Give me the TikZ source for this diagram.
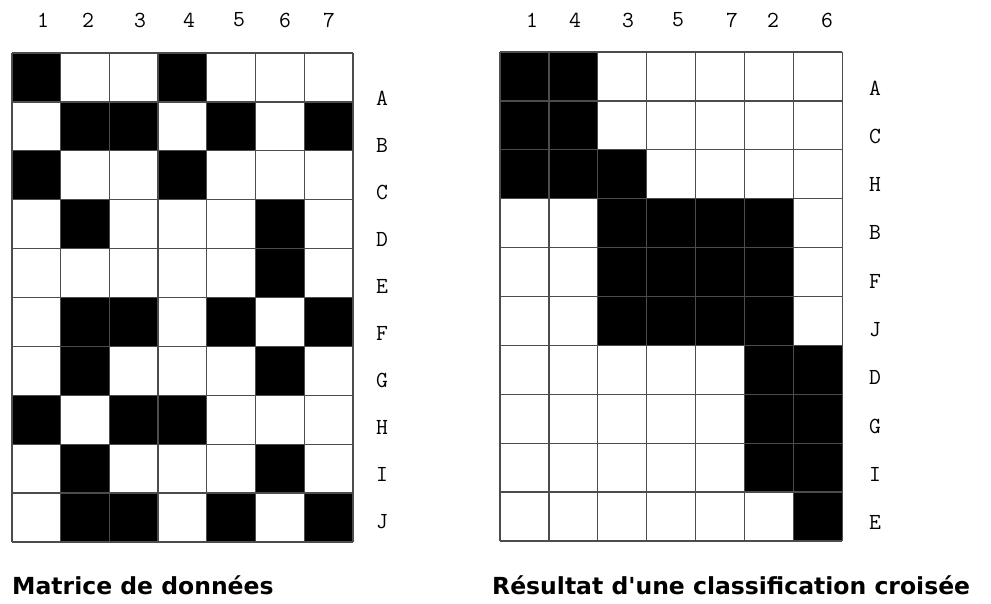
\documentclass[tikz,border=0pt]{standalone}
\usepackage{fontspec}
\newfontfamily\capfont{DejaVu Sans}

\begin{document}
\begin{tikzpicture}[x=1pt,y=-1pt,
  gridline/.style={draw=black!70, line width=1.3pt},
  lab/.style={font=\ttfamily\fontsize{23}{23}\selectfont, inner sep=0pt},
  caption/.style={font=\capfont\bfseries\fontsize{23.5}{23.5}\selectfont, anchor=base west, inner sep=0pt}]

  \useasboundingbox (0,0) rectangle (991,603);

  %--- Left: data matrix, rows A..J, columns 1..7 ---
  \foreach \r/\cols in {0/{0,3}, 1/{1,2,4,6}, 2/{0,3}, 3/{1,5}, 4/{5},
                        5/{1,2,4,6}, 6/{1,5}, 7/{0,2,3}, 8/{1,5}, 9/{1,2,4,6}}
    \foreach \c in \cols
      \fill (12+\c*48.7,53+\r*48.9) rectangle ++(48.7,48.9);
  \foreach \k in {0,...,7}
    \draw[gridline] (12+\k*48.7,53) -- ++(0,489);
  \foreach \k in {0,...,10}
    \draw[gridline] (12,53+\k*48.9) -- ++(341,0);

  % column and row labels
  \foreach \t/\x in {1/43,2/88,3/140,4/189,5/239,6/285,7/329}
    \node[lab] (lc\t) at (\x,20) {\t};
  \foreach \t [count=\k from 0] in {A,B,C,D,E,F,G,H,I,J}
    \node[lab] (lr\t) at (382,98+\k*47.1) {\t};

  %--- Right: reordered matrix, rows A C H B F J D G I E, columns 1 4 3 5 7 2 6 ---
  \foreach \r/\cols in {0/{0,1}, 1/{0,1}, 2/{0,1,2}, 3/{2,3,4,5}, 4/{2,3,4,5},
                        5/{2,3,4,5}, 6/{5,6}, 7/{5,6}, 8/{5,6}, 9/{6}}
    \foreach \c in \cols
      \fill (500+\c*48.9,52+\r*48.9) rectangle ++(48.9,48.9);
  \foreach \k in {0,...,7}
    \draw[gridline] (500+\k*48.9,52) -- ++(0,489);
  \foreach \k in {0,...,10}
    \draw[gridline] (500,52+\k*48.9) -- ++(342,0);

  \foreach \t/\x in {1/532,4/575,3/628,5/678,7/732,2/773,6/827}
    \node[lab] (rc\t) at (\x,20) {\t};
  \foreach \t [count=\k from 0] in {A,C,H,B,F,J,D,G,I,E}
    \node[lab] (rr\t) at (875,88+\k*48.3) {\t};

  %--- Captions ---
  \node[caption] (capL) at (12,594) {Matrice de données};
  \node[caption] (capR) at (492,594) {Résultat d'une classification croisée};

\end{tikzpicture}
\end{document}
